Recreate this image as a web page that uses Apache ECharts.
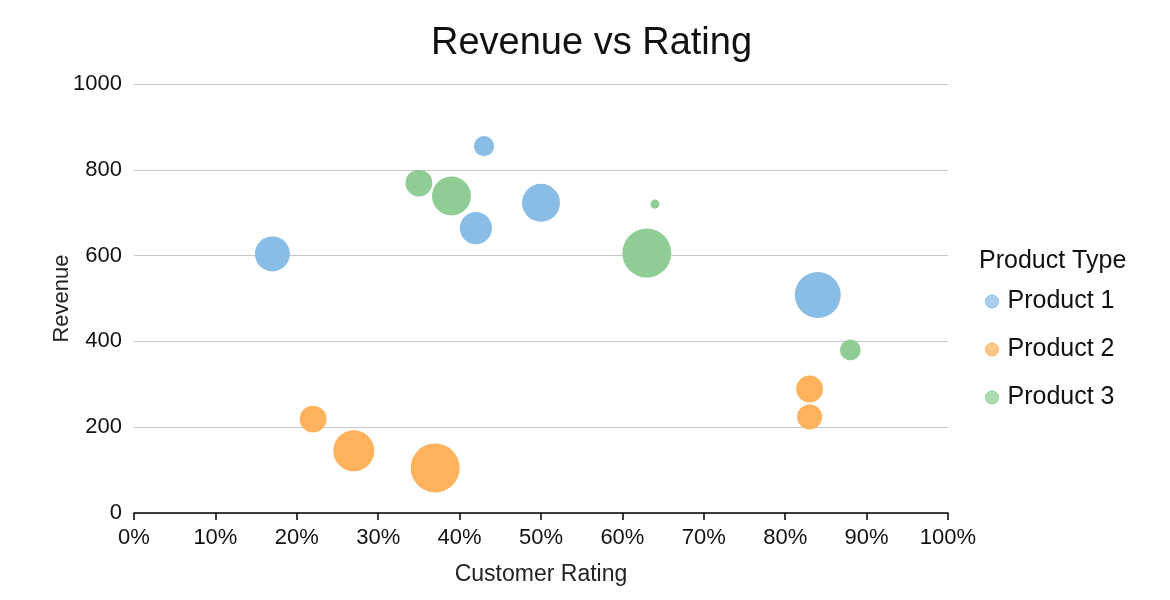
<!DOCTYPE html>
<html>
<head>
<meta charset="utf-8">
<script src="https://cdn.jsdelivr.net/npm/echarts@6/dist/echarts.min.js"></script>
<style>
html,body{margin:0;padding:0;background:#fff;}
#chart{width:1170px;height:600px;}
</style>
</head>
<body>
<div id="chart"></div>
<script>
// Data: [rating (fraction), revenue, bubble size]
const seriesNames = ['Product 1', 'Product 2', 'Product 3'];
const product1 = [
  [0.43, 855, 17],
  [0.17, 604, 51],
  [0.42, 664, 43],
  [0.50, 723, 60],
  [0.84, 508, 88]
];
const product2 = [
  [0.22, 219, 30],
  [0.27, 145, 70],
  [0.37, 105, 100],
  [0.83, 289, 30],
  [0.83, 224, 26]
];
const product3 = [
  [0.35, 769, 30],
  [0.39, 739, 63],
  [0.64, 720, 3.4],
  [0.63, 606, 100],
  [0.88, 380, 18]
];
const colors = ['#8abde6', '#fdb25b', '#8fcd95'];
const legendFill = ['#a9cff0', '#fec589', '#acdcb1'];
const xTicks = [0, 0.1, 0.2, 0.3, 0.4, 0.5, 0.6, 0.7, 0.8, 0.9, 1.0];
const yTicks = [0, 200, 400, 600, 800, 1000];

const FONT = "'Liberation Sans', Arial, sans-serif";
const chart = echarts.init(document.getElementById('chart'), null, {renderer: 'canvas'});
const allData = [product1, product2, product3];

chart.setOption({
  animation: false,
  backgroundColor: '#fff',
  textStyle: {fontFamily: FONT},
  title: [
    {text: 'Revenue vs Rating', left: 426, top: 20,
     textStyle: {fontFamily: FONT, fontSize: 38, fontWeight: 'normal', color: '#111'}},
    {text: 'Product Type', left: 974, top: 244,
     textStyle: {fontFamily: FONT, fontSize: 25, fontWeight: 'normal', color: '#111'}}
  ],
  legend: {
    orient: 'vertical',
    left: 980,
    top: 284,
    itemGap: 23,
    itemWidth: 13,
    itemHeight: 13,
    icon: 'circle',
    textStyle: {fontFamily: FONT, fontSize: 25, color: '#111', padding: [0, 0, 0, 4]},
    data: seriesNames.map((n, i) => ({
      name: n,
      itemStyle: {color: legendFill[i], borderColor: colors[i], borderWidth: 1}
    }))
  },
  grid: {left: 134, right: 222, top: 84, bottom: 87, containLabel: false},
  xAxis: {
    type: 'value',
    min: 0, max: 1, interval: 0.1,
    name: 'Customer Rating',
    nameLocation: 'middle',
    nameGap: 50,
    nameMoveOverlap: false,
    nameTextStyle: {fontFamily: FONT, fontSize: 23, color: '#222'},
    axisLine: {show: true, lineStyle: {color: '#000', width: 1.5}},
    axisTick: {show: true, length: 7, lineStyle: {color: '#000', width: 1.5}},
    axisLabel: {fontFamily: FONT, fontSize: 22, color: '#111', margin: 14,
      formatter: v => Math.round(v * 100) + '%'},
    splitLine: {show: false}
  },
  yAxis: {
    type: 'value',
    min: 0, max: 1000, interval: 200,
    name: 'Revenue',
    nameLocation: 'middle',
    nameGap: 61,
    nameMoveOverlap: false,
    nameTextStyle: {fontFamily: FONT, fontSize: 22, color: '#222'},
    axisLine: {show: false},
    axisTick: {show: false},
    axisLabel: {fontFamily: FONT, fontSize: 22, color: '#111', margin: 12,
      padding: [3, 0, 0, 0],
      formatter: v => String(v)},
    splitLine: {show: true, lineStyle: {color: '#c8c8c8', width: 1.2}}
  },
  series: seriesNames.map((name, i) => ({
    name: name,
    type: 'scatter',
    data: allData[i],
    symbol: 'circle',
    symbolSize: d => Math.sqrt(d[2]) * 4.9,
    itemStyle: {color: colors[i], opacity: 1, borderWidth: 0}
  }))
});
</script>
</body>
</html>
